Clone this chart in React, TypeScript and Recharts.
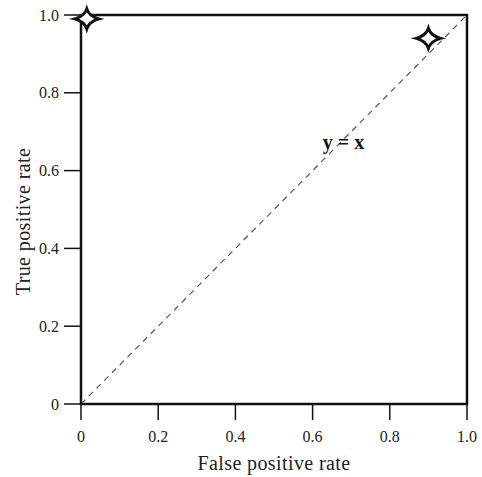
import { ScatterChart, Scatter, XAxis, YAxis, ReferenceLine, ReferenceArea, ReferenceDot, Label } from "recharts";

// ROC operating points
const fpr = [0.015, 0.9];
const tpr = [0.99, 0.94];
const points = fpr.map((x, i) => ({ x, y: tpr[i] }));

const ticks = [0, 0.2, 0.4, 0.6, 0.8, 1.0];
const diagonal = [{ x: 0, y: 0 }, { x: 1, y: 1 }];
const diagLabel = { x: 0.68, y: 0.675, text: "y = x" };

const FONT = "'Liberation Serif', 'DejaVu Serif', serif";
const fmt = (v: number) => (v === 0 ? "0" : v.toFixed(1));

// four-pointed concave star
function Star(props: { cx?: number; cy?: number }) {
  const { cx = 0, cy = 0 } = props;
  const rx = 12, ry = 10, c = 2.5;
  const d = [
    `M${cx},${cy - ry}`,
    `Q${cx + c},${cy - c} ${cx + rx},${cy}`,
    `Q${cx + c},${cy + c} ${cx},${cy + ry}`,
    `Q${cx - c},${cy + c} ${cx - rx},${cy}`,
    `Q${cx - c},${cy - c} ${cx},${cy - ry}`,
    "Z",
  ].join(" ");
  return <path d={d} fill="#fff" stroke="#111" strokeWidth={3} strokeLinejoin="miter" />;
}

const tickStyle = { fill: "#222", fontSize: 16, fontFamily: FONT };

export default function App() {
  return (
    <div style={{ position: "absolute", left: 0, top: 0, background: "#fff" }}>
      <ScatterChart width={482} height={477} margin={{ top: 15, right: 15, left: 0, bottom: 0 }}>
        <XAxis
          type="number" dataKey="x" domain={[0, 1]} ticks={ticks} tickFormatter={fmt}
          height={73} tickSize={16} tickMargin={11}
          tick={tickStyle}
          axisLine={{ stroke: "#111", strokeWidth: 2 }}
          tickLine={{ stroke: "#111", strokeWidth: 1.5 }}
        >
          <Label value="False positive rate" position="insideBottom" offset={7}
            style={{ fill: "#222", fontSize: 20, fontFamily: FONT, letterSpacing: 0.4 }} />
        </XAxis>
        <YAxis
          type="number" dataKey="y" domain={[0, 1]} ticks={ticks} tickFormatter={fmt}
          width={81} tickSize={17} tickMargin={5}
          tick={tickStyle}
          axisLine={{ stroke: "#111", strokeWidth: 2 }}
          tickLine={{ stroke: "#111", strokeWidth: 1.5 }}
        >
          <Label
            content={({ viewBox }: any) => {
              const x = 23;
              const y = viewBox.y + viewBox.height / 2 + 12;
              return (
                <text x={x} y={y} transform={`rotate(-90 ${x} ${y})`} textAnchor="middle"
                  dominantBaseline="central" fill="#222" fontSize={20} fontFamily={FONT} letterSpacing={0.4}>
                  True positive rate
                </text>
              );
            }}
          />
        </YAxis>
        <ReferenceArea x1={0} x2={1} y1={0} y2={1} fill="none" stroke="#111" strokeWidth={2.5} fillOpacity={0} />
        <ReferenceLine segment={diagonal} stroke="#555" strokeWidth={1.2} strokeDasharray="6 5" />
        <ReferenceDot x={diagLabel.x} y={diagLabel.y} r={0} stroke="none"
          label={{ value: diagLabel.text, position: "center", fill: "#111", fontSize: 20, fontWeight: "bold", fontFamily: FONT }} />
        <Scatter data={points} shape={<Star />} isAnimationActive={false} />
      </ScatterChart>
    </div>
  );
}
